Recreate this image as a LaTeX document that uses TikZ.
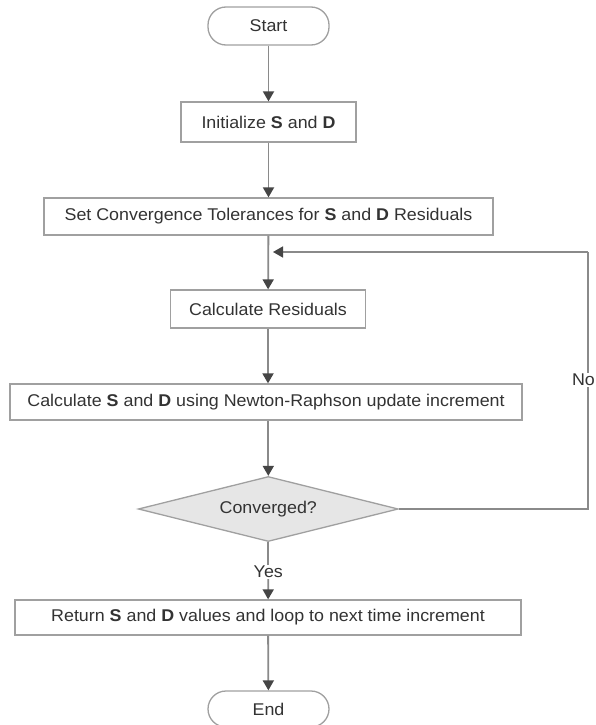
\documentclass[tikz,border=0pt]{standalone}
\usepackage{fontspec}
\setmainfont{Liberation Sans}[FakeStretch=1.05]
\usetikzlibrary{shapes.geometric,arrows.meta}
\definecolor{txt}{HTML}{333333}
\definecolor{edge}{HTML}{A0A0A0}
\definecolor{lnk}{HTML}{8A8A8A}
\definecolor{tipc}{HTML}{454545}
\definecolor{dfill}{HTML}{E6E6E6}
\begin{document}
\begin{tikzpicture}[x=1pt,y=-1pt,
  every node/.style={font=\fontsize{17}{20}\selectfont, text=txt},
  procbox/.style={draw=edge, line width=1.3pt, fill=white, rectangle, inner sep=0pt, anchor=center},
  termbox/.style={draw=edge, line width=1.3pt, fill=white, rectangle, rounded corners=18pt, inner sep=0pt},
  decbox/.style={draw=edge, line width=1.3pt, fill=dfill, diamond, inner sep=0pt},
  flow/.style={draw=lnk, line width=1.8pt, -{Triangle[length=10pt,width=11pt,color=tipc]}},
  plain/.style={draw=lnk, line width=1.8pt},
  lbl/.style={fill=white, inner sep=1pt}]
\useasboundingbox (0,0) rectangle (596,725);
\fill[white] (0,0) rectangle (596,725);
\node[termbox, minimum width=121pt, minimum height=38pt] (start) at (268.5,26) {Start};
\node[procbox, minimum width=175pt, minimum height=40pt] (init) at (268.5,122) {Initialize \textbf{S} and \textbf{D}};
\node[procbox, minimum width=449pt, minimum height=37pt] (set) at (268.5,216.5) {Set Convergence Tolerances for \textbf{S} and \textbf{D} Residuals};
\node[procbox, minimum width=195pt, minimum height=38pt] (res) at (268,309) {Calculate Residuals};
\node[procbox, minimum width=512pt, minimum height=36pt] (nr) at (266,402) {Calculate \textbf{S} and \textbf{D} using Newton-Raphson update increment};
\node[decbox, minimum width=260pt, minimum height=65pt, aspect=4] (conv) at (268.3,509) {};
\node at (conv.center) {Converged?};
\node[lbl] (yes) at (268.3,572) {Yes};
\node[procbox, minimum width=506pt, minimum height=35pt] (ret) at (268,617.5) {Return \textbf{S} and \textbf{D} values and loop to next time increment};
\node[termbox, minimum width=121pt, minimum height=36pt] (end) at (268.5,709) {End};
\coordinate (c1) at (588,509);
\coordinate (c2) at (588,252);
\coordinate (c3) at (273,252);
\draw[flow] (start) -- (init);
\draw[flow] (init) -- (set);
\draw[flow] (set) -- (res);
\draw[flow] (res) -- (res |- nr.north);
\draw[flow] (nr.south -| conv) -- (conv.north);
\draw[plain] (conv.south) -- (yes);
\draw[flow] (yes) -- (ret);
\draw[flow] (ret) -- (end);
\draw[plain, line width=1.5pt] (conv.east) -- (c1) -- (c2);
\draw[flow, line width=1.5pt] (c2) -- (c3);
\node[lbl] (no) at (583.5,380) {No};
\end{tikzpicture}
\end{document}
